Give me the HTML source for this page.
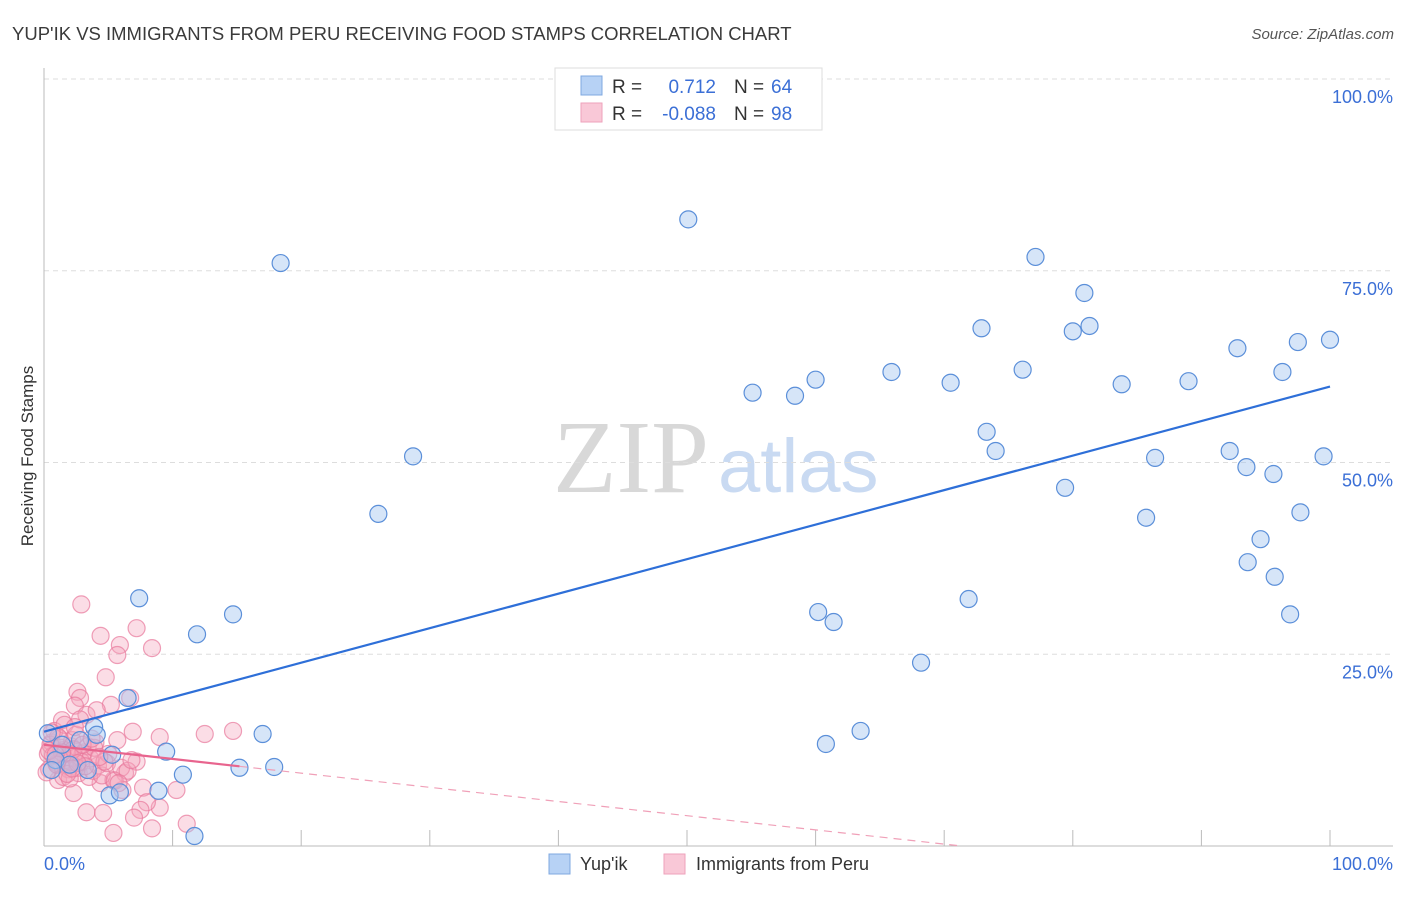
<!DOCTYPE html>
<html><head><meta charset="utf-8"><style>
body{margin:0;background:#fff;width:1406px;height:892px;overflow:hidden;font-family:"Liberation Sans",sans-serif}
</style></head><body>
<svg id="chart" width="1406" height="892" xmlns="http://www.w3.org/2000/svg" font-family="Liberation Sans, sans-serif">
<text x="12" y="40" font-size="18.5" fill="#3a3a3a">YUP'IK VS IMMIGRANTS FROM PERU RECEIVING FOOD STAMPS CORRELATION CHART</text>
<text x="1394" y="39" font-size="15" fill="#555" font-style="italic" text-anchor="end">Source: ZipAtlas.com</text>
<text transform="translate(33,456) rotate(-90)" font-size="17" fill="#333" text-anchor="middle">Receiving Food Stamps</text>
<g>
<text x="553" y="492" font-size="104" font-family="Liberation Serif, serif" fill="#d8d8d8">ZIP</text>
<text x="718" y="492" font-size="76" fill="#c9daf2">atlas</text>
</g>
<g id="grid"></g>
<g id="axes"></g>
<g id="points"></g>
<g id="trends"></g>
<g>
<rect x="555" y="68" width="267" height="62" fill="#fff" stroke="#ddd"/>
<rect x="581" y="76" width="21" height="19" fill="#b7d2f5" stroke="#7fa8e0"/>
<rect x="581" y="103" width="21" height="19" fill="#f9c8d7" stroke="#eea2bb"/>
<text x="612" y="93" font-size="19" fill="#333">R =</text>
<text x="716" y="93" font-size="19" fill="#3b6fd6" text-anchor="end">0.712</text>
<text x="734" y="93" font-size="19" fill="#333">N =</text>
<text x="771" y="93" font-size="19" fill="#3b6fd6">64</text>
<text x="612" y="120" font-size="19" fill="#333">R =</text>
<text x="716" y="120" font-size="19" fill="#3b6fd6" text-anchor="end">-0.088</text>
<text x="734" y="120" font-size="19" fill="#333">N =</text>
<text x="771" y="120" font-size="19" fill="#3b6fd6">98</text>
</g>
<g>
<rect x="549" y="854" width="21" height="20" fill="#b7d2f5" stroke="#7fa8e0"/>
<text x="580" y="870" font-size="18" fill="#333">Yup'ik</text>
<rect x="664" y="854" width="21" height="20" fill="#f9c8d7" stroke="#eea2bb"/>
<text x="696" y="870" font-size="18" fill="#333">Immigrants from Peru</text>
</g>
</svg>
<script>
const yTicks=[25,50,75,100];
const yTickLabels=["25.0%","50.0%","75.0%","100.0%"];
const xTicks=[0,10,20,30,40,50,60,70,80,90,100];
const xEndLabels=["0.0%","100.0%"];
const yupikX=[50.1,18.4,77.1,80.9,72.9,80.0,81.3,92.8,97.5,100,65.9,60.0,70.5,76.1,83.8,89.0,96.3,55.1,58.4,28.7,73.3,74.0,86.4,92.2,93.5,95.6,99.5,79.4,26.0,85.7,97.7,94.6,93.6,95.7,96.9,71.9,60.2,61.4,68.2,60.8,63.5,7.4,14.7,11.9,6.5,17.0,15.2,17.9,9.5,10.8,8.9,11.7,3.9,5.3,4.1,0.9,0.3,2.0,5.1,5.9,2.8,1.4,3.4,0.6];
const yupikY=[81.7,76.0,76.8,72.1,67.5,67.1,67.8,64.9,65.7,66.0,61.8,60.8,60.4,62.1,60.2,60.6,61.8,59.1,58.7,50.8,54.0,51.5,50.6,51.5,49.4,48.5,50.8,46.7,43.3,42.8,43.5,40.0,37.0,35.1,30.2,32.2,30.5,29.2,23.9,13.3,15.0,32.3,30.2,27.6,19.3,14.6,10.2,10.3,12.3,9.3,7.2,1.3,15.5,11.9,14.5,11.2,14.7,10.6,6.6,7.0,13.8,13.2,9.9,9.9];
const peruX=[2.9,4.4,7.2,5.9,5.7,8.4,4.8,2.6,2.8,2.4,5.2,6.7,3.3,4.1,1.4,6.9,9.0,12.5,14.7,5.7,7.2,6.3,10.3,7.7,9.0,8.0,7.5,7.0,8.4,5.4,3.3,4.6,11.1,6.1,2.3,4.4,5.4,1.1,
0.3,0.6,0.9,1.2,1.5,1.8,2.1,2.4,2.7,3.0,0.4,0.8,1.3,1.7,2.2,2.6,3.1,3.5,0.5,1.0,1.6,2.0,2.5,2.9,3.4,3.8,4.2,0.7,1.1,1.9,2.3,3.6,4.0,4.5,4.9,0.2,1.4,2.8,3.2,5.0,5.5,6.0,0.6,1.5,2.4,3.9,4.7,6.5,1.0,2.0,3.0,4.3,0.4,1.8,2.6,3.7,5.8,6.8,0.9,2.2];
const peruY=[31.5,27.4,28.4,26.2,24.9,25.8,22.0,20.1,19.3,18.3,18.4,19.3,17.1,17.7,16.4,14.9,14.2,14.6,15.0,13.8,11.0,9.5,7.3,7.6,5.0,5.7,4.7,3.7,2.3,1.7,4.4,4.3,2.9,7.3,6.9,8.2,8.6,8.6,
12.0,13.5,11.0,14.0,12.5,10.5,13.0,11.5,9.5,12.0,10.0,15.0,12.8,11.2,13.8,10.2,12.2,9.0,13.2,10.8,15.8,12.0,14.5,11.0,13.0,9.8,10.5,11.8,14.2,10.0,12.6,11.4,13.5,9.2,10.8,9.6,12.2,16.5,10.4,12.0,8.5,10.2,14.8,9.0,15.5,12.8,11.0,9.8,10.6,8.8,13.2,11.6,12.4,9.4,10.8,14.0,8.2,11.2,11.9,10.1];
const yupikTrend=[14.9,0.45];
const peruTrend=[13.2,-0.185];
const peruSolidEnd=15.2, peruDashEnd=71;

const NS="http://www.w3.org/2000/svg";
const X=v=>44+v*12.86, Y=v=>846-v*7.67;
function mk(tag,attrs,parent){const e=document.createElementNS(NS,tag);for(const k in attrs)e.setAttribute(k,attrs[k]);document.getElementById(parent).appendChild(e);return e;}
yTicks.forEach((t,i)=>{
 const g=mk('line',{x1:44,x2:1393,y1:Y(t),y2:Y(t),stroke:'#ddd','stroke-dasharray':'5,4'},'grid');
 
 
 const l=mk('text',{x:1393,y:Y(t)+24,'font-size':18,fill:'#3b6fd6','text-anchor':'end'},'grid');
 l.textContent=yTickLabels[i];
 
 
});
let a=mk('line',{x1:44,x2:44,y1:68,y2:846,stroke:'#bbb'},'axes');


a=mk('line',{x1:44,x2:1393,y1:846,y2:846,stroke:'#bbb'},'axes');


xTicks.forEach(t=>{if(t===0)return;
 const e=mk('line',{x1:X(t),x2:X(t),y1:830,y2:846,stroke:'#bbb'},'axes');
 
 
});
let xl=mk('text',{x:44,y:870,'font-size':18,fill:'#3b6fd6'},'axes');xl.textContent=xEndLabels[0];


xl=mk('text',{x:1393,y:870,'font-size':18,fill:'#3b6fd6','text-anchor':'end'},'axes');xl.textContent=xEndLabels[1];


peruX.forEach((v,i)=>{
 const c=mk('circle',{cx:X(v),cy:Y(peruY[i]),r:8.5,fill:'rgba(245,165,190,0.38)',stroke:'rgba(232,120,155,0.7)','stroke-width':1.2},'points');
 
 
});
yupikX.forEach((v,i)=>{
 const c=mk('circle',{cx:X(v),cy:Y(yupikY[i]),r:8.5,fill:'rgba(165,198,240,0.45)',stroke:'#5b8fd9','stroke-width':1.2},'points');
 
 
});
let t=mk('line',{x1:X(0),y1:Y(yupikTrend[0]),x2:X(100),y2:Y(yupikTrend[0]+100*yupikTrend[1]),stroke:'#2e6fd8','stroke-width':2.2},'trends');


t=mk('line',{x1:X(0),y1:Y(peruTrend[0]),x2:X(peruSolidEnd),y2:Y(peruTrend[0]+peruSolidEnd*peruTrend[1]),stroke:'#e8648e','stroke-width':2.2},'trends');


t=mk('line',{x1:X(peruSolidEnd),y1:Y(peruTrend[0]+peruSolidEnd*peruTrend[1]),x2:X(peruDashEnd),y2:Y(peruTrend[0]+peruDashEnd*peruTrend[1]),stroke:'#f0a0b8','stroke-width':1.2,'stroke-dasharray':'8,6'},'trends');


</script>
</body></html>
